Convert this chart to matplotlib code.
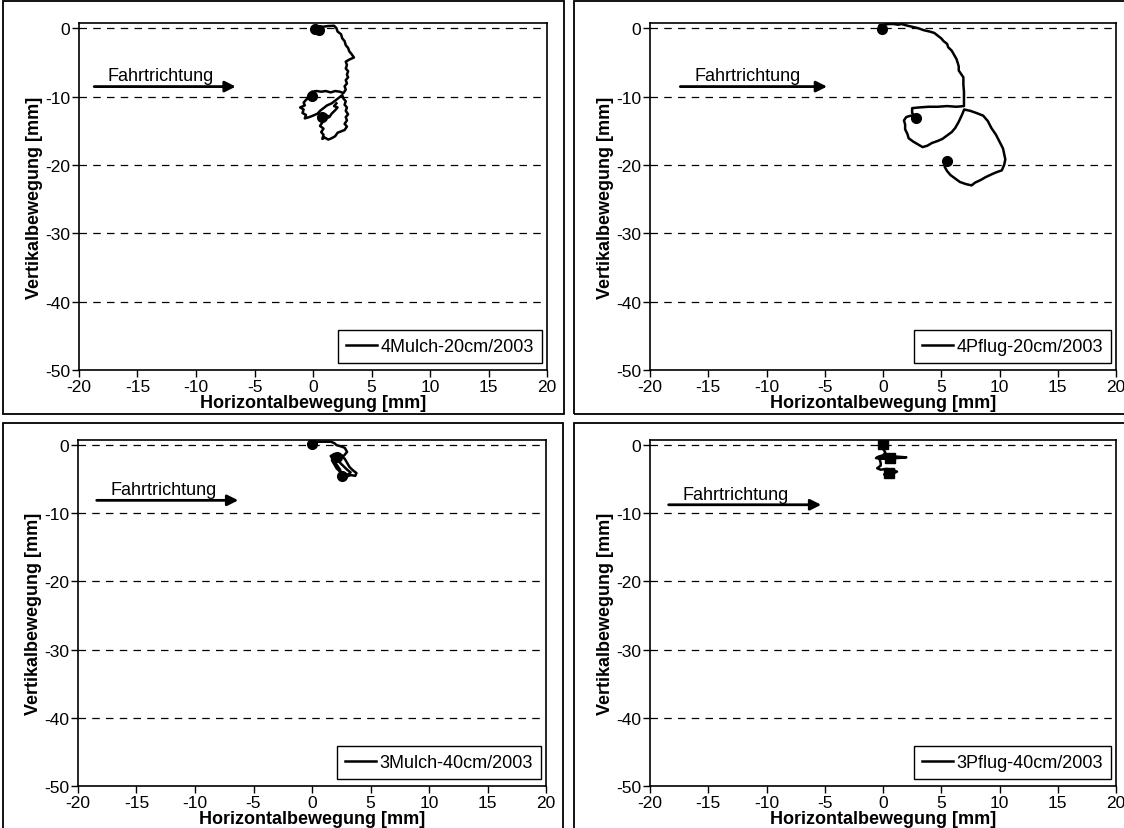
import matplotlib
matplotlib.use("Agg")
import matplotlib.pyplot as plt
from matplotlib.patches import Rectangle

plt.rcParams['font.family'] = ['Liberation Sans', 'DejaVu Sans']

# ---------------- data ----------------
x_ticks = [-20, -15, -10, -5, 0, 5, 10, 15, 20]
y_ticks = [0, -10, -20, -30, -40, -50]
grid_levels = [0, -10, -20, -30, -40]

labels = ["4Mulch-20cm/2003", "4Pflug-20cm/2003", "3Mulch-40cm/2003", "3Pflug-40cm/2003"]

tl_x = [0.0, 0.4, 0.7, 0.6, 0.1, -0.1, 0.3, 0.8, 1.3, 1.8, 2.0, 2.1, 2.4, 2.5, 2.7, 2.8, 3.0, 3.1, 3.3, 3.5,
        3.1, 2.8, 2.9, 2.8, 3.0, 2.9, 3.0, 2.8, 2.9, 2.7, 2.8, 2.6, 2.3, 1.9, 1.5, 1.1, 0.7, 0.3, -0.1, -0.3,
        -0.1, -0.5, -0.2, -0.6, -0.8, -0.7, -1.1, -0.8, -0.9, -0.6, -0.7, -0.3, 0.0, 0.4, 0.6, 0.9, 1.2, 1.6,
        1.9, 2.2, 2.5, 2.6, 2.8, 2.7, 2.9, 2.8, 3.0, 2.8, 2.9, 2.7, 2.9, 2.7, 2.4, 2.1, 1.9, 1.6, 1.3, 1.0,
        0.8, 0.9, 0.7, 0.9, 0.6, 0.8, 0.5, 0.7, 1.0, 1.3, 1.0, 1.4, 1.6, 1.9, 2.1, 1.8, 2.0]
tl_y = [0.1, 0.3, 0.0, -0.5, -0.4, -0.1, 0.1, 0.2, 0.3, 0.35, 0.0, -0.5, -0.9, -1.5, -1.9, -2.5, -2.9, -3.4,
        -3.8, -4.3, -4.6, -4.9, -5.4, -5.9, -6.3, -6.8, -7.2, -7.6, -8.1, -8.5, -9.0, -9.5, -9.3, -9.2, -9.4,
        -9.2, -9.3, -9.2, -9.3, -9.7, -10.1, -10.2, -9.9, -10.5, -10.9, -11.3, -11.6, -11.9, -12.4, -12.7,
        -13.2, -13.0, -12.8, -12.5, -12.1, -11.7, -11.3, -11.0, -10.6, -10.2, -9.8, -10.3, -10.7, -11.2,
        -11.6, -12.1, -12.6, -13.0, -13.5, -14.0, -14.4, -14.9, -15.1, -15.3, -15.8, -16.1, -16.3, -16.0,
        -16.2, -15.6, -15.2, -14.7, -14.3, -13.8, -13.3, -12.9, -12.6, -12.9, -13.3, -13.0, -12.5, -12.0,
        -11.6, -11.4, -11.0]
tl_blob_x = [0.2, 0.5, -0.1, 0.8]
tl_blob_y = [-0.2, -0.3, -9.9, -13.0]

tr_x = [-0.3, -0.1, 0.0, -0.3, 0.1, 0.5, 0.9, 1.3, 1.6, 2.0, 2.5, 3.0, 3.5, 4.0, 4.4, 4.7, 5.0, 5.2, 5.5, 5.6,
        5.9, 6.1, 6.3, 6.4, 6.5, 6.5, 6.7, 6.9, 6.9, 6.95, 6.95, 6.95, 6.3, 5.5, 4.7, 3.9, 3.1, 2.5, 2.5, 2.8,
        2.4, 2.0, 1.8, 1.9, 1.9, 2.1, 2.2, 2.6, 2.9, 3.4, 3.8, 4.2, 4.7, 5.1, 5.5, 5.9, 6.2, 6.5, 6.8, 6.97,
        7.5, 8.0, 8.6, 9.0, 9.3, 9.7, 10.0, 10.3, 10.4, 10.5, 10.4, 10.2, 9.7, 9.3, 8.8, 8.4, 7.9, 7.6, 7.1,
        6.6, 6.2, 5.8, 5.5, 5.3, 5.35, 5.6]
tr_y = [0.3, -0.2, 0.0, 0.4, 0.5, 0.6, 0.6, 0.5, 0.6, 0.4, 0.2, 0.0, -0.3, -0.5, -0.7, -1.1, -1.5, -1.9, -2.3,
        -2.8, -3.3, -3.9, -4.5, -5.0, -5.6, -6.2, -6.7, -7.2, -8.3, -9.3, -10.4, -11.4, -11.5, -11.4, -11.5,
        -11.5, -11.6, -11.7, -12.4, -13.1, -12.8, -13.0, -13.5, -14.1, -14.8, -15.5, -16.1, -16.6, -16.9,
        -17.4, -17.2, -16.8, -16.5, -16.2, -15.7, -15.2, -14.6, -13.7, -12.6, -11.9, -12.1, -12.4, -12.8,
        -13.6, -14.6, -15.6, -16.6, -17.6, -18.4, -19.2, -20.0, -20.8, -21.1, -21.4, -21.8, -22.2, -22.6,
        -23.0, -22.8, -22.5, -22.0, -21.5, -20.9, -20.3, -19.7, -19.5]
tr_blob_x = [-0.1, 2.8, 5.5]
tr_blob_y = [-0.1, -13.1, -19.5]

bl_x = [0.0, -0.1, 0.1, 0.5, 1.0, 1.6, 1.9, 2.1, 2.5, 2.8, 3.0, 2.7, 2.3, 1.9, 1.6, 1.8, 2.0, 2.2, 2.4, 2.5,
        2.7, 2.8, 3.0, 3.3, 3.7, 3.8, 3.5, 3.2, 3.0, 2.8, 2.5, 2.2, 2.4, 2.7, 3.0, 3.3, 3.1, 2.7, 2.4, 2.1,
        1.9, 1.7, 2.0]
bl_y = [0.25, 0.1, 0.4, 0.5, 0.5, 0.5, 0.3, 0.0, -0.2, -0.4, -1.0, -1.6, -1.4, -1.3, -1.6, -2.1, -2.6, -3.1,
        -3.6, -4.2, -4.8, -5.1, -4.6, -4.4, -4.5, -4.1, -3.7, -3.2, -2.6, -2.0, -1.7, -2.0, -2.6, -3.1, -3.6,
        -4.0, -4.3, -4.3, -3.9, -3.4, -2.8, -2.2, -1.8]
bl_blob_x = [0.0, 2.6, 2.1]
bl_blob_y = [0.2, -4.5, -1.8]

br_x = [0.0, -0.1, 0.0, 0.2, 0.0, -0.4, -0.6, -0.2, 0.5, 1.2, 2.0, 1.3, 0.5, 0.0, -0.3, -0.2, -0.2, -0.5,
        -0.2, 0.3, 0.8, 1.2, 0.8, 0.4, 0.1, 0.5, 0.9]
br_y = [0.5, 0.0, -0.5, -1.1, -1.5, -1.7, -1.9, -2.0, -2.0, -1.9, -1.8, -1.7, -1.6, -1.7, -2.0, -2.6, -3.0,
        -3.4, -3.6, -3.5, -3.6, -3.9, -4.2, -4.6, -4.3, -4.0, -3.9]
br_blob_x = [0.0, 0.6, 0.5]
br_blob_y = [0.1, -1.9, -4.1]

arrow_start = [-18.7, -17.4, -18.4, -18.4]
arrow_end = [-6.6, -4.8, -6.3, -5.3]
arrow_y = [-8.55, -8.55, -8.1, -8.75]
text_x = [-17.6, -16.2, -17.2, -17.2]

series_x = [tl_x, tr_x, bl_x, br_x]
series_y = [tl_y, tr_y, bl_y, br_y]
blobs_x = [tl_blob_x, tr_blob_x, bl_blob_x, br_blob_x]
blobs_y = [tl_blob_y, tr_blob_y, bl_blob_y, br_blob_y]
blob_marker = ['o', 'o', 'o', 's']

# ---------------- layout ----------------
W, H = 1124, 829
fig = plt.figure(figsize=(W / 100, H / 100), dpi=100)

def fx(px):
    return px / W

def fy(py):
    return 1 - py / H

# axes pixel boxes: left, right, top(px of ylim top), bottom(px of -50)
ax_boxes = [(79, 547, 24, 371), (650, 1116, 24, 371), (78, 546, 441, 787), (650, 1116, 441, 787)]
frames = [(3, 2, 564, 415), (574, 2, 1132, 415), (3, 424, 563, 840), (574, 424, 1132, 840)]

for (x0, y0, x1, y1) in frames:
    fig.add_artist(Rectangle((fx(x0), fy(y1)), fx(x1) - fx(x0), fy(y0) - fy(y1),
                             transform=fig.transFigure, fill=False, ec='black', lw=1.3))

FS = 13
TFS = 12.5
for i in range(4):
    l, r, t, b = ax_boxes[i]
    ax = fig.add_axes([fx(l), fy(b), fx(r) - fx(l), fy(t) - fy(b)])
    ax.set_xlim(-20, 20)
    ax.set_ylim(-50, 0.75)
    for lev in grid_levels:
        ax.axhline(lev, color='black', lw=0.9, ls=(0, (6, 5)), zorder=1)
    ax.plot(series_x[i], series_y[i], color='black', lw=1.8, solid_joinstyle='round',
            label=labels[i], zorder=3)
    ax.plot(blobs_x[i], blobs_y[i], ls='none', marker=blob_marker[i], ms=7, color='black', zorder=3)
    ax.set_xticks(x_ticks)
    ax.set_yticks(y_ticks)
    ax.set_xticklabels([str(v) for v in x_ticks])
    ax.set_yticklabels([str(v) for v in y_ticks])
    ax.tick_params(direction='out', length=5, width=1, labelsize=TFS, colors='black', pad=1.5)
    for s in ax.spines.values():
        s.set_color('black')
        s.set_linewidth(1.2)
    ax.set_xlabel('Horizontalbewegung [mm]', fontsize=FS, fontweight='bold', labelpad=0)
    ax.set_ylabel('Vertikalbewegung [mm]', fontsize=FS, fontweight='bold', labelpad=1)
    ax.annotate('', xy=(arrow_end[i], arrow_y[i]), xytext=(arrow_start[i], arrow_y[i]),
                arrowprops=dict(arrowstyle='-|>', lw=2, color='black', mutation_scale=16,
                                shrinkA=0, shrinkB=0))
    ax.text(text_x[i], arrow_y[i] + 0.9, 'Fahrtrichtung', fontsize=FS, ha='left', va='baseline')
    leg = ax.legend(loc='lower right', bbox_to_anchor=(0.989, 0.02), borderaxespad=0,
                    fontsize=FS, handlelength=1.7, handletextpad=0.2, borderpad=0.45,
                    fancybox=False, framealpha=1, edgecolor='black')
    leg.get_frame().set_linewidth(1.0)

fig.savefig('out.png', dpi=100)
